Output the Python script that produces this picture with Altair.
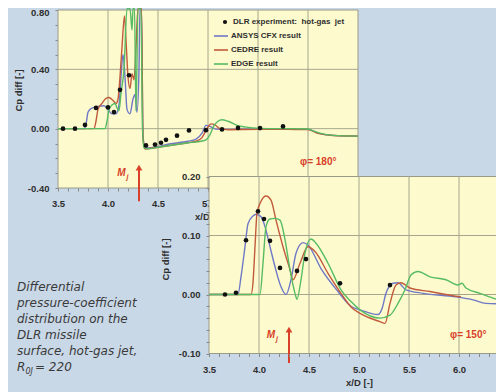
import altair as alt
import pandas as pd

# ---------------- data ----------------
SERIES_DLR = "DLR experiment:\u00a0 hot-gas\u00a0 jet"
SERIES_LINES = ["ANSYS CFX result", "CEDRE result", "EDGE result"]
LINE_COLORS = ["#6f78c6", "#c25a3c", "#56bb62"]

# upper panel, phi = 180 deg
DLR_180_X = [3.55, 3.67, 3.77, 3.88, 4.00, 4.06, 4.12, 4.21, 4.38, 4.47, 4.53, 4.58, 4.69, 4.81, 4.98, 5.14, 5.30, 5.52, 5.75]
DLR_180_Y = [0.000, 0.000, 0.025, 0.140, 0.143, 0.112, 0.262, 0.360, -0.113, -0.107, -0.095, -0.075, -0.047, -0.012, -0.010, -0.005, 0.005, 0.004, 0.015]

ANSYS_180_X = [3.50, 3.76, 3.78, 3.80, 3.83, 3.90, 3.96, 4.00, 4.04, 4.08, 4.11, 4.13, 4.15, 4.17, 4.19, 4.22, 4.25, 4.27, 4.29, 4.31, 4.32, 4.335, 4.35, 4.37, 4.40, 4.50, 4.60, 4.70, 4.80, 4.88, 4.94, 4.98, 5.02, 5.08, 5.20, 5.50, 5.80, 6.00, 6.10, 6.25, 6.50]
ANSYS_180_Y = [0.000, 0.000, 0.030, 0.110, 0.135, 0.150, 0.155, 0.130, 0.100, 0.100, 0.160, 0.350, 0.500, 0.350, 0.130, 0.100, 0.200, 0.230, 0.110, 0.400, 0.810, 0.810, -0.050, -0.125, -0.130, -0.120, -0.105, -0.095, -0.085, -0.070, -0.030, 0.022, 0.015, -0.003, -0.005, -0.003, -0.003, -0.005, -0.030, -0.045, -0.050]

CEDRE_180_X = [3.50, 3.86, 3.88, 3.90, 3.94, 3.98, 4.01, 4.05, 4.08, 4.10, 4.12, 4.14, 4.165, 4.18, 4.20, 4.22, 4.24, 4.26, 4.28, 4.30, 4.335, 4.35, 4.37, 4.40, 4.50, 4.60, 4.70, 4.80, 4.88, 4.94, 4.99, 5.03, 5.07, 5.12, 5.20, 5.50, 5.80, 6.00, 6.10, 6.25, 6.50]
CEDRE_180_Y = [0.000, 0.000, 0.050, 0.130, 0.170, 0.205, 0.210, 0.190, 0.170, 0.200, 0.350, 0.550, 0.760, 0.600, 0.350, 0.270, 0.370, 0.330, 0.550, 0.810, 0.810, -0.060, -0.137, -0.135, -0.125, -0.115, -0.105, -0.095, -0.085, -0.060, 0.000, 0.032, 0.025, 0.000, -0.007, -0.005, -0.005, -0.006, -0.032, -0.046, -0.050]

EDGE_180_X = [3.50, 3.97, 3.99, 4.01, 4.04, 4.07, 4.09, 4.11, 4.13, 4.16, 4.19, 4.22, 4.24, 4.25, 4.265, 4.28, 4.30, 4.33, 4.345, 4.36, 4.40, 4.50, 4.60, 4.70, 4.80, 4.90, 4.98, 5.02, 5.06, 5.10, 5.14, 5.20, 5.30, 5.45, 5.60, 5.80, 6.00, 6.05, 6.12, 6.25, 6.50]
EDGE_180_Y = [0.000, 0.000, 0.050, 0.130, 0.160, 0.170, 0.140, 0.120, 0.240, 0.400, 0.810, 0.810, 0.665, 0.810, 0.810, 0.120, 0.810, 0.810, 0.000, -0.130, -0.135, -0.125, -0.115, -0.105, -0.095, -0.088, -0.075, -0.040, 0.020, 0.050, 0.060, 0.050, 0.020, 0.005, 0.000, 0.000, -0.002, -0.015, -0.030, -0.045, -0.050]

# lower panel, phi = 150 deg
DLR_150_X = [3.66, 3.77, 3.87, 3.99, 4.05, 4.11, 4.21, 4.38, 4.47, 4.81, 5.31]
DLR_150_Y = [0.000, 0.003, 0.092, 0.141, 0.128, 0.091, 0.045, 0.040, 0.060, 0.019, 0.016]

ANSYS_150_X = [3.50, 3.79, 3.82, 3.86, 3.89, 3.94, 3.97, 4.02, 4.06, 4.11, 4.16, 4.22, 4.27, 4.32, 4.37, 4.44, 4.49, 4.62, 4.79, 4.92, 5.01, 5.19, 5.23, 5.27, 5.34, 5.39, 5.47, 5.64, 5.97, 6.14, 6.27, 6.50]
ANSYS_150_Y = [0.000, 0.000, 0.030, 0.081, 0.120, 0.133, 0.136, 0.132, 0.115, 0.081, 0.047, 0.013, 0.000, 0.025, 0.070, 0.088, 0.084, 0.044, 0.005, -0.020, -0.026, -0.034, -0.024, 0.002, 0.019, 0.020, 0.008, 0.002, -0.004, -0.009, -0.015, -0.016]

CEDRE_150_X = [3.50, 3.92, 3.94, 3.96, 3.98, 4.02, 4.07, 4.12, 4.17, 4.24, 4.31, 4.34, 4.41, 4.49, 4.56, 4.69, 4.82, 4.92, 5.01, 5.21, 5.26, 5.31, 5.37, 5.42, 5.51, 5.71, 5.97, 6.02]
CEDRE_150_Y = [0.000, 0.000, 0.020, 0.081, 0.138, 0.158, 0.167, 0.160, 0.126, 0.081, 0.042, 0.025, 0.053, 0.081, 0.073, 0.036, 0.002, -0.021, -0.032, -0.046, -0.049, -0.015, 0.016, 0.020, 0.011, 0.005, -0.003, -0.004]

EDGE_150_X = [3.50, 4.01, 4.04, 4.07, 4.11, 4.16, 4.21, 4.26, 4.31, 4.36, 4.38, 4.42, 4.46, 4.52, 4.57, 4.69, 4.82, 4.92, 5.01, 5.21, 5.31, 5.39, 5.46, 5.52, 5.59, 5.71, 5.87, 5.99, 6.03, 6.07, 6.21, 6.34, 6.50]
EDGE_150_Y = [0.000, 0.000, 0.053, 0.115, 0.128, 0.129, 0.126, 0.093, 0.042, 0.002, -0.008, 0.025, 0.070, 0.094, 0.087, 0.053, 0.008, -0.012, -0.026, -0.040, -0.035, -0.015, 0.008, 0.033, 0.039, 0.030, 0.025, 0.016, 0.019, 0.011, 0.002, -0.006, -0.014]

# axes / ticks
X_DOMAIN = [3.5, 6.5]
TOP_Y_DOMAIN = [-0.4, 0.8]
BOT_Y_DOMAIN = [-0.1, 0.2]
X_TICKS = [3.5, 3.6, 3.7, 3.8, 3.9, 4.0, 4.1, 4.2, 4.3, 4.4, 4.5, 4.6, 4.7, 4.8, 4.9, 5.0,
           5.1, 5.2, 5.3, 5.4, 5.5, 5.6, 5.7, 5.8, 5.9, 6.0, 6.1, 6.2, 6.3, 6.4, 6.5]
TOP_Y_TICKS = [-0.4, -0.3, -0.2, -0.1, 0.0, 0.1, 0.2, 0.3, 0.4, 0.5, 0.6, 0.7, 0.8]
BOT_Y_TICKS = [-0.10, -0.08, -0.06, -0.04, -0.02, 0.0, 0.02, 0.04, 0.06, 0.08, 0.10,
               0.12, 0.14, 0.16, 0.18, 0.20]
X_GRID = [4.0, 4.5, 5.0, 5.5, 6.0]
TOP_Y_GRID = [0.0, 0.4]
BOT_Y_GRID = [0.0, 0.1]

# annotations (data units of each panel)
TOP_PHI = {"x": 5.92, "y": -0.222, "t": "\u03c6= 180\u00b0"}
BOT_PHI = {"x": 5.91, "y": -0.069, "t": "\u03c6= 150\u00b0"}
TOP_MJ = {"x": 4.31, "y0": -0.49, "y1": -0.262, "tx": 4.175, "ty": -0.30, "jy": -0.325}
BOT_MJ = {"x": 4.30, "y0": -0.1163, "y1": -0.0594, "tx": 4.16, "ty": -0.068, "jy": -0.0755}
DESC_LINES = ["Differential", "pressure-coefficient", "distribution on the",
              "DLR missile", "surface, hot-gas jet,"]

# ---------------- styling ----------------
W, H = 488, 384
BG = "#c9d8e7"
PANEL = "#fdfbcd"
GRID = "#a6a68e"
FRAME = "#9a9a88"
TICK = "#888888"
FONT = "Liberation Sans"
WIDE = "DejaVu Sans"
TXT = "#2e2e2e"
RED = "#d8402a"

TOP_XR, TOP_YR = [50, 350], [180, 2]
BOT_XR, BOT_YR = [201, 501], [345.5, 168.5]

xs_top = alt.Scale(domain=X_DOMAIN, range=TOP_XR, nice=False, zero=False)
ys_top = alt.Scale(domain=TOP_Y_DOMAIN, range=TOP_YR, nice=False, zero=False)
xs_bot = alt.Scale(domain=X_DOMAIN, range=BOT_XR, nice=False, zero=False)
ys_bot = alt.Scale(domain=BOT_Y_DOMAIN, range=BOT_YR, nice=False, zero=False)

COLOR_SCALE = alt.Scale(domain=SERIES_LINES, range=LINE_COLORS)
DLR_SCALE = alt.Scale(domain=[SERIES_DLR], range=["#111111"])

TOP_X_LABELS = "round(datum.value*10) % 5 == 0 ? format(datum.value, '.1f') : ''"
BOT_X_LABELS = "round(datum.value*10) % 5 == 0 && datum.value < 6.45 ? format(datum.value, '.1f') : ''"
TOP_Y_LABELS = "round(datum.value*10) % 4 == 0 ? replace(format(datum.value, '.2f'), '\u2212', '-') : ''"
BOT_Y_LABELS = "round(datum.value*100) % 10 == 0 ? replace(format(datum.value, '.2f'), '\u2212', '-') : ''"
# nudge only the top-most label of the upper y axis so it is not cut at the page edge
TOP_LABEL_NUDGE = {"condition": {"test": "datum.value > 0.75", "value": 2.5}, "value": 0}


def axis(orient, offset, values, expr, title, tx, ty, lpad, z, label_offset=0):
    return alt.Axis(
        orient=orient, offset=offset, values=values, labelExpr=expr, title=title,
        titleX=tx, titleY=ty, titleAngle=270 if orient == "left" else 0,
        titleBaseline="middle", titleAlign="center",
        titleFont=FONT, titleFontSize=9.5, titleFontWeight="bold", titleColor=TXT,
        labelFont=FONT, labelFontSize=9.5, labelFontWeight="bold", labelColor=TXT,
        labelPadding=lpad, labelOverlap=False, labelFlush=False, labelOffset=label_offset,
        tickSize=3, tickColor=TICK, tickWidth=1, domain=False, grid=False, zindex=z,
    )


LINE_LEGEND = alt.Legend(
    title=None, orient="none", legendX=205, legendY=20, symbolType="stroke", symbolSize=196,
    symbolStrokeWidth=1.6, labelFont=FONT, labelFontSize=8, labelFontWeight="bold",
    labelColor=TXT, labelOffset=2, rowPadding=2, padding=0, zindex=1,
)
DLR_LEGEND = alt.Legend(
    title=None, orient="none", legendX=213, legendY=10, symbolType="circle", symbolSize=18,
    labelFont=FONT, labelFontSize=8, labelFontWeight="bold", labelColor=TXT,
    labelOffset=4, padding=0, zindex=1,
)


class Panel:
    def __init__(self, xs, ys, ydom, x_axis, y_axis):
        self.xs, self.ys, self.ydom = xs, ys, ydom
        self.x_axis, self.y_axis = x_axis, y_axis

    def X(self, f):
        return alt.X(f, scale=self.xs, axis=self.x_axis)

    def Y(self, f):
        return alt.Y(f, scale=self.ys, axis=self.y_axis)

    def frame(self):
        df = pd.DataFrame({"x0": [X_DOMAIN[0]], "x1": [X_DOMAIN[1]],
                           "y0": [self.ydom[0]], "y1": [self.ydom[1]]})
        return alt.Chart(df).mark_rect(fill=PANEL, stroke=FRAME, strokeWidth=1).encode(
            x=self.X("x0:Q"), x2="x1:Q", y=self.Y("y0:Q"), y2="y1:Q")

    def grid(self, gy):
        v = alt.Chart(pd.DataFrame({"x": X_GRID, "y0": self.ydom[0], "y1": self.ydom[1]})).mark_rule(
            color=GRID, strokeWidth=1).encode(x=self.X("x:Q"), y=self.Y("y0:Q"), y2="y1:Q")
        h = alt.Chart(pd.DataFrame({"y": gy, "x0": X_DOMAIN[0], "x1": X_DOMAIN[1]})).mark_rule(
            color=GRID, strokeWidth=1).encode(y=self.Y("y:Q"), x=self.X("x0:Q"), x2="x1:Q")
        return [v, h]

    def line(self, name, xv, yv, legend):
        df = pd.DataFrame({"x": xv, "y": yv, "series": name})
        return alt.Chart(df).mark_line(strokeWidth=1.4, interpolate="monotone").encode(
            x=self.X("x:Q"), y=self.Y("y:Q"),
            color=alt.Color("series:N", scale=COLOR_SCALE, legend=legend))

    def points(self, xv, yv, legend):
        df = pd.DataFrame({"x": xv, "y": yv, "series": SERIES_DLR})
        return alt.Chart(df).mark_point(filled=True, size=22, opacity=1, shape="circle").encode(
            x=self.X("x:Q"), y=self.Y("y:Q"),
            fill=alt.Fill("series:N", scale=DLR_SCALE, legend=legend))

    def annotations(self, phi, mj):
        phi_t = alt.Chart(pd.DataFrame([phi])).mark_text(
            align="left", baseline="middle", color=RED, font=FONT, fontSize=10, fontWeight="bold"
        ).encode(x=self.X("x:Q"), y=self.Y("y:Q"), text="t:N")
        mdf = pd.DataFrame([mj])
        m_t = alt.Chart(mdf).mark_text(
            align="right", baseline="middle", color=RED, font=FONT, fontSize=10,
            fontWeight="bold", fontStyle="italic", text="M",
        ).encode(x=self.X("tx:Q"), y=self.Y("ty:Q"))
        j_t = alt.Chart(mdf).mark_text(
            align="left", baseline="middle", color=RED, font=FONT, fontSize=7,
            fontWeight="bold", fontStyle="italic", text="j", dx=1,
        ).encode(x=self.X("tx:Q"), y=self.Y("jy:Q"))
        shaft = alt.Chart(mdf).mark_rule(color=RED, strokeWidth=2).encode(
            x=self.X("x:Q"), y=self.Y("y0:Q"), y2="y1:Q")
        head = alt.Chart(mdf).mark_point(
            shape="triangle-up", filled=True, size=45, color=RED, opacity=1
        ).encode(x=self.X("x:Q"), y=self.Y("y1:Q"))
        return [phi_t, m_t, j_t, shaft, head]


# ---------------- upper panel (phi = 180) ----------------
P1 = Panel(xs_top, ys_top, TOP_Y_DOMAIN,
           axis("bottom", TOP_YR[0] - H, X_TICKS, TOP_X_LABELS, "x/D [-]", 200, 28, 7.5, 0),
           axis("left", -TOP_XR[0], TOP_Y_TICKS, TOP_Y_LABELS, "Cp diff [-]", -40, 82, 6, 0,
                label_offset=TOP_LABEL_NUDGE))

top = alt.layer(
    P1.frame(),
    *P1.grid(TOP_Y_GRID),
    P1.line(SERIES_LINES[0], ANSYS_180_X, ANSYS_180_Y, LINE_LEGEND),
    P1.line(SERIES_LINES[1], CEDRE_180_X, CEDRE_180_Y, LINE_LEGEND),
    P1.line(SERIES_LINES[2], EDGE_180_X, EDGE_180_Y, LINE_LEGEND),
    P1.points(DLR_180_X, DLR_180_Y, DLR_LEGEND),
    *P1.annotations(TOP_PHI, TOP_MJ),
)

# ---------------- lower panel (phi = 150) ----------------
P2 = Panel(xs_bot, ys_bot, BOT_Y_DOMAIN,
           axis("bottom", BOT_YR[0] - H, X_TICKS, BOT_X_LABELS, "x/D [-]", 351, 28.5, 8, 1),
           axis("left", -BOT_XR[0], BOT_Y_TICKS, BOT_Y_LABELS, "Cp diff [-]", -44, 251, 6, 1))

one = pd.DataFrame({"k": [0]})
desc = alt.Chart(one).mark_text(
    text=DESC_LINES, align="left", baseline="alphabetic", lineHeight=16,
    font=WIDE, fontSize=12, fontStyle="italic", color="#3a3a3a",
).encode(x=alt.value(9), y=alt.value(283))
r_main = alt.Chart(one).mark_text(
    text="R", align="left", baseline="alphabetic", font=WIDE, fontSize=12,
    fontStyle="italic", color="#3a3a3a").encode(x=alt.value(9), y=alt.value(363))
r_sub = alt.Chart(one).mark_text(
    text="0J", align="left", baseline="alphabetic", font=WIDE, fontSize=8,
    fontStyle="italic", color="#3a3a3a").encode(x=alt.value(17.5), y=alt.value(366))
r_val = alt.Chart(one).mark_text(
    text="= 220", align="left", baseline="alphabetic", font=WIDE, fontSize=12,
    fontStyle="italic", color="#3a3a3a").encode(x=alt.value(27), y=alt.value(363))

bottom = alt.layer(
    P2.frame(),
    *P2.grid(BOT_Y_GRID),
    P2.line(SERIES_LINES[0], ANSYS_150_X, ANSYS_150_Y, None),
    P2.line(SERIES_LINES[1], CEDRE_150_X, CEDRE_150_Y, None),
    P2.line(SERIES_LINES[2], EDGE_150_X, EDGE_150_Y, None),
    P2.points(DLR_150_X, DLR_150_Y, None),
    *P2.annotations(BOT_PHI, BOT_MJ),
    desc, r_main, r_sub, r_val,
)

chart = (
    alt.layer(top, bottom)
    .resolve_scale(x="independent", y="independent")
    .properties(width=W, height=H, background=BG, padding=0,
                autosize=alt.AutoSizeParams(type="none"))
    .configure_view(stroke=None)
)

chart.save("out.html", embed_options={"renderer": "svg", "actions": False})
